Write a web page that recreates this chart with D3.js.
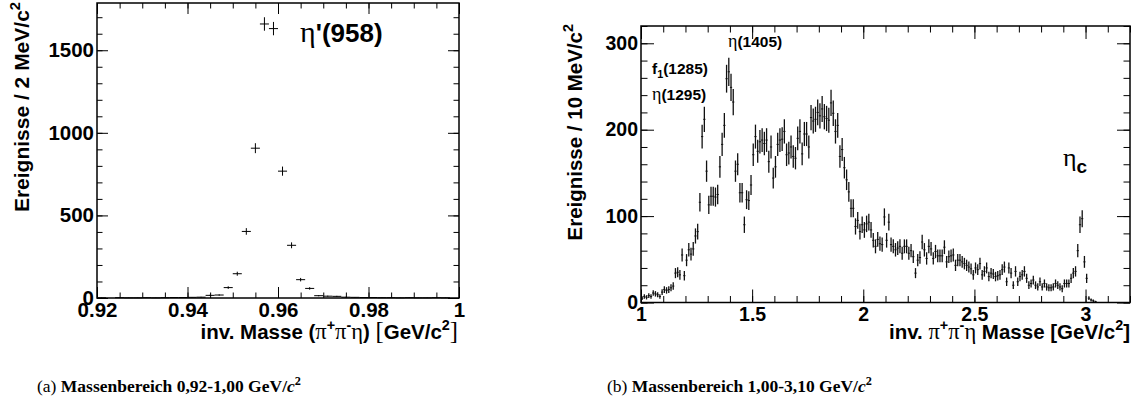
<!DOCTYPE html>
<html><head><meta charset="utf-8">
<script src="https://cdn.jsdelivr.net/npm/d3@7"></script>
<style>body{margin:0;background:#fff} svg{display:block}</style>
</head><body>
<svg id="c" width="1137" height="414"></svg>
<script>
// ---------- data ----------
// left histogram: inv. mass (pi+ pi- eta), 2 MeV bins from 0.92 to 1.00 GeV
const leftRange = [0.92, 1.00];
const leftBinWidth = 0.002;
const leftCounts = [1, 0, 2, 1, 1, 2, 1, 2, 3, 3,
                    4, 5, 16, 18, 63, 147, 403, 907, 1659, 1631,
                    768, 319, 111, 58, 14, 11, 10, 5, 4, 3,
                    3, 2, 2, 1, 2, 1, 1, 2, 1, 0];
// right histogram: 10 MeV bins from 1.00 to 3.20 GeV
const rightRange = [1.00, 3.20];
const rightBinWidth = 0.01;
const rightCounts = [
  5, 7, 6, 8, 7, 11, 10, 9, 7, 12,
  15, 14, 15, 17, 19, 34, 35, 32, 55, 31,
  49, 61, 56, 62, 77, 82, 116, 192, 212, 152,
  113, 123, 123, 122, 125, 157, 183, 205, 259, 267,
  249, 232, 152, 160, 127, 127, 90, 119, 118, 136,
  171, 192, 175, 186, 188, 184, 188, 163, 180, 144,
  157, 183, 188, 189, 198, 171, 173, 180, 169, 167,
  190, 198, 172, 195, 195, 180, 214, 210, 212, 220,
  216, 224, 215, 213, 211, 231, 219, 198, 205, 169,
  177, 156, 142, 128, 109, 109, 88, 95, 82, 90,
  84, 91, 93, 84, 72, 65, 73, 68, 67, 99,
  72, 93, 67, 65, 61, 63, 65, 57, 65, 65,
  57, 60, 53, 34, 49, 52, 70, 61, 51, 65,
  62, 51, 59, 54, 54, 54, 64, 47, 53, 54,
  55, 43, 49, 49, 47, 45, 43, 41, 39, 32,
  40, 38, 45, 32, 36, 40, 30, 34, 33, 30,
  31, 32, 38, 41, 24, 40, 34, 20, 36, 24,
  30, 32, 36, 28, 20, 22, 26, 20, 18, 24,
  18, 22, 18, 17, 17, 18, 22, 20, 18, 16,
  22, 22, 22, 28, 34, 36, 60, 90, 97, 47,
  28, 5, 3, 2, 1, 0, 0, 0, 0, 0,
  0, 0, 0, 0, 0, 0, 0, 0, 0, 0];
const leftXTicks = [0.92, 0.94, 0.96, 0.98, 1];
const leftYTicks = [0, 500, 1000, 1500];
const rightXTicks = [1, 1.5, 2, 2.5, 3];
const rightYTicks = [0, 100, 200, 300];

// ---------- drawing ----------
const svg = d3.select("#c");
const SANS = "'Liberation Sans', Arial, Helvetica, sans-serif";
const SERIF = "'Liberation Serif', 'Times New Roman', serif";

function rich(sel, parts, size) {
  let shift = 0;
  parts.forEach(p => {
    const target = p.sup ? -size * 0.42 : p.sub ? size * 0.28 : 0;
    const ts = sel.append("tspan").text(p.t);
    if (target - shift !== 0) ts.attr("dy", target - shift);
    shift = target;
    if (p.sup || p.sub) ts.attr("font-size", size * 0.7);
    if (p.size) ts.attr("font-size", p.size);
    if (p.greek) ts.attr("font-family", SERIF).attr("font-weight", "normal");
    if (p.w) ts.attr("font-weight", p.w);
    if (p.it) ts.attr("font-style", "italic");
    if (p.fam) ts.attr("font-family", p.fam);
  });
}

function panel(cfg) {
  const g = svg.append("g");
  const x = d3.scaleLinear().domain(cfg.xDomain).range([cfg.x0, cfg.x1]);
  const y = d3.scaleLinear().domain(cfg.yDomain).range([cfg.y1, cfg.y0]);
  const eps = 1e-9;
  const minorX = d3.range(0, Math.round((cfg.xDomain[1] - cfg.xDomain[0]) / cfg.minorXStep) + 1)
                   .map(i => cfg.xDomain[0] + i * cfg.minorXStep);
  const minorY = d3.range(0, Math.floor((cfg.yDomain[1] + eps) / cfg.minorYStep) + 1)
                   .map(i => i * cfg.minorYStep);

  const styleAxis = sel => {
    sel.select(".domain").remove();
    sel.selectAll(".tick line").attr("stroke", "#000").attr("stroke-width", 1);
    sel.selectAll(".tick text").attr("font-family", SANS).attr("font-weight", "bold")
       .attr("font-size", cfg.tickFont).attr("fill", "#000");
  };
  // bottom
  g.append("g").attr("transform", `translate(0,${cfg.y1})`)
    .call(d3.axisBottom(x).tickValues(minorX).tickSize(-cfg.minLen).tickFormat("")).call(styleAxis);
  g.append("g").attr("transform", `translate(0,${cfg.y1})`)
    .call(d3.axisBottom(x).tickValues(cfg.xTicks).tickSize(-cfg.majLen).tickPadding(cfg.xPad).tickFormat(cfg.xFmt)).call(styleAxis);
  // top
  g.append("g").attr("transform", `translate(0,${cfg.y0})`)
    .call(d3.axisTop(x).tickValues(minorX).tickSize(-cfg.minLen).tickFormat("")).call(styleAxis);
  g.append("g").attr("transform", `translate(0,${cfg.y0})`)
    .call(d3.axisTop(x).tickValues(cfg.xTicks).tickSize(-cfg.majLen).tickFormat("")).call(styleAxis);
  // left
  g.append("g").attr("transform", `translate(${cfg.x0},0)`)
    .call(d3.axisLeft(y).tickValues(minorY).tickSize(-cfg.minLen).tickFormat("")).call(styleAxis);
  g.append("g").attr("transform", `translate(${cfg.x0},0)`)
    .call(d3.axisLeft(y).tickValues(cfg.yTicks).tickSize(-cfg.majLen).tickPadding(3).tickFormat(d3.format("d"))).call(styleAxis);
  // right
  g.append("g").attr("transform", `translate(${cfg.x1},0)`)
    .call(d3.axisRight(y).tickValues(minorY).tickSize(-cfg.minLen).tickFormat("")).call(styleAxis);
  g.append("g").attr("transform", `translate(${cfg.x1},0)`)
    .call(d3.axisRight(y).tickValues(cfg.yTicks).tickSize(-cfg.majLen).tickFormat("")).call(styleAxis);

  // histogram points with error bars
  const bins = cfg.counts.map((c, i) => ({
    lo: cfg.xDomain[0] + i * cfg.binW, hi: cfg.xDomain[0] + (i + 1) * cfg.binW, c
  })).filter(d => d.c > 0);
  const hg = g.append("g").attr("stroke", cfg.barColor).attr("fill", "none");
  hg.selectAll("line.h").data(bins).join("line").attr("class", "h")
    .attr("stroke-width", 1)
    .attr("x1", d => x(d.lo)).attr("x2", d => x(d.hi))
    .attr("y1", d => y(d.c)).attr("y2", d => y(d.c));
  hg.selectAll("line.v").data(bins).join("line").attr("class", "v")
    .attr("stroke-width", cfg.barW)
    .attr("x1", d => x((d.lo + d.hi) / 2)).attr("x2", d => x((d.lo + d.hi) / 2))
    .attr("y1", d => y(Math.max(0, d.c - Math.sqrt(d.c))))
    .attr("y2", d => y(Math.min(cfg.yDomain[1], d.c + Math.sqrt(d.c))));

  // frame
  g.append("rect").attr("x", cfg.x0).attr("y", cfg.y0)
    .attr("width", cfg.x1 - cfg.x0).attr("height", cfg.y1 - cfg.y0)
    .attr("fill", "none").attr("stroke", "#000").attr("stroke-width", 1.5);
  return { g, x, y };
}

const L = panel({
  x0: 97, x1: 459, y0: 3, y1: 298, xDomain: leftRange, yDomain: [0, 1786],
  counts: leftCounts, binW: leftBinWidth, xTicks: leftXTicks, yTicks: leftYTicks,
  minorXStep: 0.005, minorYStep: 100, majLen: 11, minLen: 5.5, tickFont: 20.5, xPad: 4,
  xFmt: d => d === 1 ? "1" : d.toFixed(2), barW: 1, barColor: "#000"
});
const R = panel({
  x0: 641, x1: 1130, y0: 26, y1: 302.5, xDomain: rightRange, yDomain: [0, 320],
  counts: rightCounts, binW: rightBinWidth, xTicks: rightXTicks, yTicks: rightYTicks,
  minorXStep: 0.1, minorYStep: 20, majLen: 13, minLen: 6.5, tickFont: 19.5, xPad: 5,
  xFmt: d => String(d), barW: 1.3, barColor: "#111"
});

// axis titles
const tf = 20.5;
rich(svg.append("text").attr("transform", "translate(29,2) rotate(-90)").attr("text-anchor", "end")
  .attr("font-family", SANS).attr("font-weight", "bold").attr("font-size", 21),
  [{t: "Ereignisse / 2 MeV/c"}, {t: "2", sup: true}], 21);
rich(svg.append("text").attr("transform", "translate(582,24) rotate(-90)").attr("text-anchor", "end")
  .attr("font-family", SANS).attr("font-weight", "bold").attr("font-size", 20.5),
  [{t: "Ereignisse / 10 MeV/c"}, {t: "2", sup: true}], 20.5);
rich(svg.append("text").attr("x", 458).attr("y", 339).attr("text-anchor", "end")
  .attr("font-family", SANS).attr("font-weight", "bold").attr("font-size", tf),
  [{t: "inv. Masse ("}, {t: "π", greek: true, size: tf + 2}, {t: "+", sup: true}, {t: "π", greek: true, size: tf + 2}, {t: "-", sup: true},
   {t: "η", greek: true, size: tf + 2}, {t: ") "}, {t: "[", fam: SERIF, w: "normal", size: tf + 4}, {t: "GeV/c"}, {t: "2", sup: true}, {t: "]", fam: SERIF, w: "normal", size: tf + 4}], tf);
rich(svg.append("text").attr("x", 1130).attr("y", 339).attr("text-anchor", "end")
  .attr("font-family", SANS).attr("font-weight", "bold").attr("font-size", tf),
  [{t: "inv. "}, {t: "π", greek: true, size: tf + 2}, {t: "+", sup: true}, {t: "π", greek: true, size: tf + 2}, {t: "-", sup: true},
   {t: "η", greek: true, size: tf + 2}, {t: " Masse [GeV/c"}, {t: "2", sup: true}, {t: "]"}], tf);

// annotations
rich(svg.append("text").attr("x", 300).attr("y", 42).attr("font-family", SANS).attr("font-weight", "bold").attr("font-size", 26),
  [{t: "η", greek: true, size: 30}, {t: "'(958)"}], 26);
rich(svg.append("text").attr("x", 652).attr("y", 74).attr("font-family", SANS).attr("font-weight", "bold").attr("font-size", 15.5),
  [{t: "f"}, {t: "1", sub: true}, {t: "(1285)"}], 15.5);
rich(svg.append("text").attr("x", 652).attr("y", 100).attr("font-family", SANS).attr("font-weight", "bold").attr("font-size", 15.5),
  [{t: "η", greek: true, size: 18}, {t: "(1295)"}], 15.5);
rich(svg.append("text").attr("x", 728).attr("y", 47).attr("font-family", SANS).attr("font-weight", "bold").attr("font-size", 15.5),
  [{t: "η", greek: true, size: 18}, {t: "(1405)"}], 15.5);
rich(svg.append("text").attr("x", 1063).attr("y", 166).attr("font-family", SANS).attr("font-weight", "bold").attr("font-size", 26),
  [{t: "η", greek: true}, {t: "c", sub: true, size: 19}], 26);

// captions
const cf = 17.5;
rich(svg.append("text").attr("x", 37).attr("y", 392).attr("font-family", SERIF).attr("font-size", cf),
  [{t: "(a) "}, {t: "Massenbereich 0,92-1,00 GeV/", w: "bold"}, {t: "c", w: "bold", it: true}, {t: "2", sup: true, w: "bold"}], cf);
rich(svg.append("text").attr("x", 607).attr("y", 392).attr("font-family", SERIF).attr("font-size", cf),
  [{t: "(b) "}, {t: "Massenbereich 1,00-3,10 GeV/", w: "bold"}, {t: "c", w: "bold", it: true}, {t: "2", sup: true, w: "bold"}], cf);
</script>
</body></html>
